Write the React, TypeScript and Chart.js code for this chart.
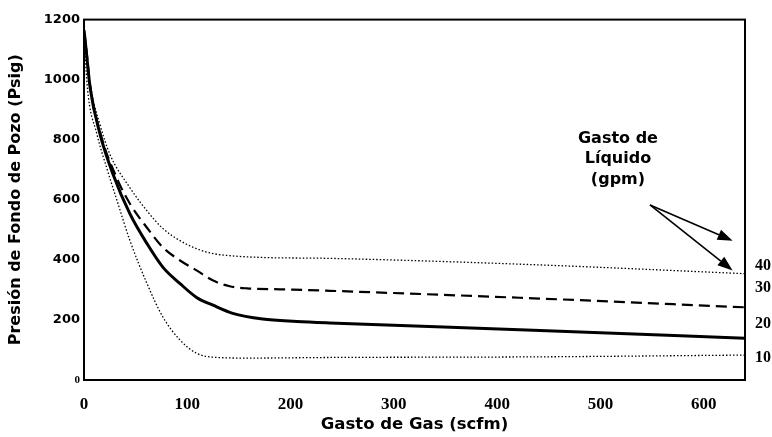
import { useEffect, useRef } from 'react';
import { Chart, registerables } from 'chart.js';

Chart.register(...registerables);

// ---- data ----
// Gas rate (scfm) vs bottom-hole pressure (psig), one curve per liquid rate (gpm)
const liq10X = [0, 3, 12.5, 22, 32, 44.5, 61, 76.5, 93, 109, 125, 158, 238, 435, 640];
const liq10P = [1160, 984, 819, 706, 597, 464, 321, 209, 133, 89, 76, 73, 75, 77, 83];

const liq20X = [0, 1, 6, 15.5, 28, 44.5, 61, 76.5, 93, 109, 125, 144, 173, 206, 238, 435, 640];
const liq20P = [1165, 1135, 971, 819, 686, 553, 454, 375, 321, 275, 249, 222, 203, 195, 190, 166, 139];

const liq30X = [0, 2, 6, 15.5, 33, 44.5, 61, 76.5, 93, 109, 125, 141, 158, 190, 238, 435, 640];
const liq30P = [1160, 1110, 980, 825, 663, 587, 507, 441, 398, 365, 331, 312, 305, 302, 297, 272, 242];

const liq40X = [0, 2, 6, 15.5, 25, 44.5, 61, 76.5, 93, 109, 125, 141, 173, 238, 435, 640];
const liq40P = [1160, 1110, 985, 850, 752, 640, 563, 504, 464, 437, 421, 414, 408, 405, 384, 354];

const xTickValues = [0, 100, 200, 300, 400, 500, 600];
const yTickValues = [0, 200, 400, 600, 800, 1000, 1200];

// right-hand curve labels (liquid rate, gpm) and the pressure level they sit at
const rightLabels = ['40', '30', '20', '10'];
const rightLabelValues = [381, 308, 186, 73];

// annotation
const noteLines = ['Gasto de', 'Líquido', '(gpm)'];
const noteX = 517;
const noteY = [802, 736, 666];
const arrowFrom = { x: 548, y: 583 };
const arrowTips = [
  { x: 628, y: 464 },
  { x: 628, y: 365 },
];

const pts = (xs: number[], ys: number[]) => xs.map((x, i) => ({ x, y: ys[i] }));

const SANS = '"DejaVu Sans", Verdana, sans-serif';
const SERIF = '"Liberation Serif", "Times New Roman", serif';

const framePlugin = {
  id: 'frameAndNotes',
  afterDraw(chart: any) {
    const { ctx, chartArea, scales } = chart;
    const xs = scales.x;
    const ys = scales.y;
    ctx.save();
    // frame
    ctx.strokeStyle = '#000';
    ctx.lineWidth = 2;
    ctx.strokeRect(chartArea.left, chartArea.top, chartArea.right - chartArea.left, chartArea.bottom - chartArea.top);

    // note text
    ctx.fillStyle = '#000';
    ctx.font = `bold 16px ${SANS}`;
    ctx.textAlign = 'center';
    ctx.textBaseline = 'middle';
    noteLines.forEach((t, i) => {
      ctx.fillText(t, xs.getPixelForValue(noteX), ys.getPixelForValue(noteY[i]));
    });

    // arrows
    const sx = xs.getPixelForValue(arrowFrom.x);
    const sy = ys.getPixelForValue(arrowFrom.y);
    arrowTips.forEach((tip) => {
      const tx = xs.getPixelForValue(tip.x);
      const ty = ys.getPixelForValue(tip.y);
      const ang = Math.atan2(ty - sy, tx - sx);
      const L = 15;
      const W = 11;
      const bx = tx - L * Math.cos(ang);
      const by = ty - L * Math.sin(ang);
      ctx.beginPath();
      ctx.lineWidth = 1.6;
      ctx.moveTo(sx, sy);
      ctx.lineTo(bx, by);
      ctx.stroke();
      ctx.beginPath();
      ctx.moveTo(tx, ty);
      ctx.lineTo(bx + (W / 2) * Math.sin(ang), by - (W / 2) * Math.cos(ang));
      ctx.lineTo(bx - (W / 2) * Math.sin(ang), by + (W / 2) * Math.cos(ang));
      ctx.closePath();
      ctx.fill();
    });
    ctx.restore();
  },
};

export default function App() {
  const ref = useRef<HTMLCanvasElement | null>(null);

  useEffect(() => {
    if (!ref.current) return;
    const lineBase = {
      borderColor: '#000',
      backgroundColor: '#000',
      pointRadius: 0,
      fill: false,
      showLine: true,
      cubicInterpolationMode: 'monotone' as const,
    };
    const chart = new Chart(ref.current, {
      type: 'scatter',
      data: {
        datasets: [
          { ...lineBase, label: '10 gpm', data: pts(liq10X, liq10P), borderWidth: 1.3, borderDash: [1.5, 2] },
          { ...lineBase, label: '20 gpm', data: pts(liq20X, liq20P), borderWidth: 3 },
          { ...lineBase, label: '30 gpm', data: pts(liq30X, liq30P), borderWidth: 2.2, borderDash: [11, 6] },
          { ...lineBase, label: '40 gpm', data: pts(liq40X, liq40P), borderWidth: 1.3, borderDash: [1.5, 2] },
        ],
      },
      options: {
        responsive: false,
        animation: false,
        layout: { padding: { top: 18, left: 0, right: 0, bottom: 0 } },
        plugins: { legend: { display: false }, tooltip: { enabled: false } },
        scales: {
          x: {
            type: 'linear',
            min: 0,
            max: 640,
            grid: { display: false, drawTicks: false },
            border: { display: false },
            afterBuildTicks: (s: any) => {
              s.ticks = xTickValues.map((v) => ({ value: v }));
            },
            afterFit: (s: any) => {
              s.height = 57;
            },
            ticks: {
              autoSkip: false,
              maxRotation: 0,
              padding: 14,
              color: '#000',
              font: { family: SERIF, size: 17, weight: 'bold' },
              callback: (v: any) => String(v),
            },
            title: {
              display: true,
              text: 'Gasto de Gas (scfm)',
              color: '#000',
              padding: { top: 0, bottom: 2 },
              font: { family: SANS, size: 16.5, weight: 'bold' },
            },
          },
          y: {
            type: 'linear',
            position: 'left',
            min: 0,
            max: 1200,
            grid: { display: false, drawTicks: false },
            border: { display: false },
            afterBuildTicks: (s: any) => {
              s.ticks = yTickValues.map((v) => ({ value: v }));
            },
            afterFit: (s: any) => {
              s.width = 84;
            },
            ticks: {
              autoSkip: false,
              padding: 4,
              color: '#000',
              callback: (v: any) => String(v),
              font: (c: any) =>
                c.tick && c.tick.value === 0
                  ? { family: SERIF, size: 11, weight: 'bold' }
                  : { family: SANS, size: 13, weight: 'bold' },
            },
            title: {
              display: true,
              text: 'Presión de Fondo de Pozo (Psig)',
              color: '#000',
              padding: { top: 6, bottom: 0 },
              font: { family: SANS, size: 16, weight: 'bold' },
            },
          },
          y2: {
            type: 'linear',
            position: 'right',
            min: 0,
            max: 1200,
            grid: { display: false, drawTicks: false },
            border: { display: false },
            afterBuildTicks: (s: any) => {
              s.ticks = rightLabelValues.map((v) => ({ value: v }));
            },
            afterFit: (s: any) => {
              s.width = 27;
            },
            ticks: {
              autoSkip: false,
              padding: 10,
              color: '#000',
              font: { family: SERIF, size: 16, weight: 'bold' },
              callback: (v: any) => rightLabels[rightLabelValues.indexOf(Number(v))] ?? '',
            },
          },
        },
      },
      plugins: [framePlugin],
    });
    return () => chart.destroy();
  }, []);

  return (
    <div style={{ position: 'absolute', left: 0, top: 0, width: 772, height: 437, background: '#fff' }}>
      <canvas ref={ref} width={772} height={437} style={{ display: 'block' }} />
    </div>
  );
}
